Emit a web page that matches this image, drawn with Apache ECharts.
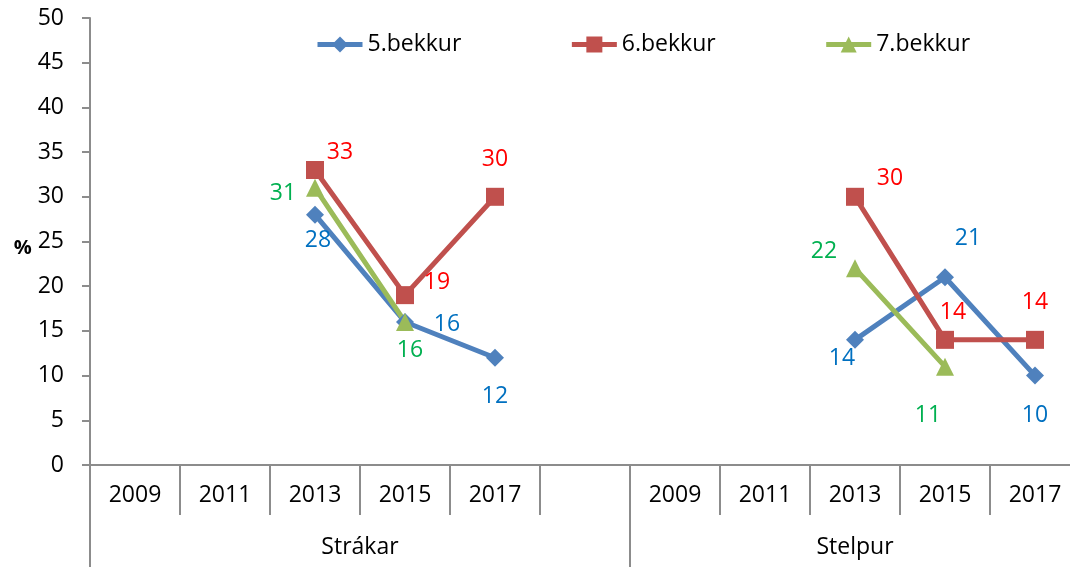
<!DOCTYPE html>
<html>
<head>
<meta charset="utf-8">
<script src="https://cdn.jsdelivr.net/npm/echarts@6/dist/echarts.min.js"></script>
<style>
  html, body { margin: 0; padding: 0; background: #fff; }
  #chart { width: 1070px; height: 567px; }
</style>
</head>
<body>
<div id="chart"></div>
<script>
// chart data
const years = ['2009', '2011', '2013', '2015', '2017', '', '2009', '2011', '2013', '2015', '2017'];
const groups = ['Strákar', 'Stelpur'];
const grade5 = [null, null, 28, 16, 12, null, null, null, 14, 21, 10];
const grade6 = [null, null, 33, 19, 30, null, null, null, 30, 14, 14];
const grade7 = [null, null, 31, 16, null, null, null, null, 22, 11, null];

// where each data label sits relative to its point (px)
const labelOffsets5 = [null, null, [3, 26], [42, 2], [0, 39], null, null, null, [-13, 19], [23, -39], [0, 40]];
const labelOffsets6 = [null, null, [25, -18], [32, -13], [0, -37], null, null, null, [35, -18], [8, -27], [0, -37]];
const labelOffsets7 = [null, null, [-32, 6], [5, 28], null, null, null, null, [-31, -17], [-17, 49], null];

const axisGray = '#8c8c8c';
const font = 'Open Sans';

const toData = (values, offsets) => values.map((v, i) =>
    v == null ? '-' : { value: v, label: { offset: offsets[i] } });

const lineSeries = (name, values, offsets, color, labelColor, symbol, size) => ({
    name: name,
    type: 'line',
    data: toData(values, offsets),
    symbol: symbol,
    symbolSize: size,
    showAllSymbol: true,
    connectNulls: false,
    lineStyle: { color: color, width: 5 },
    itemStyle: { color: color },
    label: {
        show: true,
        position: 'inside',
        color: labelColor,
        fontSize: 23,
        fontFamily: font
    },
    emphasis: { disabled: true }
});

const chart = echarts.init(document.getElementById('chart'));

chart.setOption({
    animation: false,
    textStyle: { fontFamily: font },
    grid: { left: 90, top: 18, width: 990, height: 447, outerBoundsMode: 'none', containLabel: false },
    legend: {
        left: 310,
        top: 28,
        itemWidth: 45,
        itemHeight: 20,
        itemGap: 108,
        lineStyle: { width: 5 },
        textStyle: { fontSize: 23, color: '#000', fontFamily: font }
    },
    xAxis: [{
        type: 'category',
        position: 'bottom',
        data: years,
        axisLine: { lineStyle: { color: axisGray, width: 2 } },
        axisTick: { show: true, length: 50, interval: 0, lineStyle: { color: axisGray, width: 2 } },
        axisLabel: { interval: 0, margin: 19, color: '#000', fontSize: 23, fontFamily: font }
    }, {
        // group labels under the years
        type: 'value',
        position: 'bottom',
        min: 0,
        max: 11,
        interval: 0.5,
        axisLine: { show: false },
        axisTick: { show: false },
        splitLine: { show: false },
        axisLabel: {
            margin: 71,
            color: '#000',
            fontSize: 23,
            fontFamily: font,
            formatter: v => v === 3 ? groups[0] : (v === 8.5 ? groups[1] : '')
        }
    }, {
        // long separators between the groups
        type: 'category',
        position: 'bottom',
        data: years,
        axisLine: { show: false },
        axisLabel: { show: false },
        axisTick: {
            show: true,
            length: 102,
            interval: (i) => i === 0 || i === 6,
            lineStyle: { color: axisGray, width: 2 }
        }
    }],
    yAxis: {
        type: 'value',
        min: 0,
        max: 50,
        interval: 5,
        name: '%',
        nameLocation: 'middle',
        nameRotate: 0,
        nameGap: 58,
        nameTextStyle: {
            fontSize: 20, fontWeight: 'bold', color: '#000', fontFamily: font,
            verticalAlign: 'top', lineHeight: 14
        },
        axisLine: { show: true, lineStyle: { color: axisGray, width: 2 } },
        axisTick: { show: true, length: 8, lineStyle: { color: axisGray, width: 2 } },
        splitLine: { show: false },
        axisLabel: { margin: 26, color: '#000', fontSize: 23, fontFamily: font }
    },
    series: [
        lineSeries('5.bekkur', grade5, labelOffsets5, '#4F81BD', '#0070C0', 'diamond', 18),
        lineSeries('6.bekkur', grade6, labelOffsets6, '#C0504D', '#FF0000', 'rect', 18),
        lineSeries('7.bekkur', grade7, labelOffsets7, '#9BBB59', '#00B050', 'triangle', 18)
    ]
});
</script>
</body>
</html>
